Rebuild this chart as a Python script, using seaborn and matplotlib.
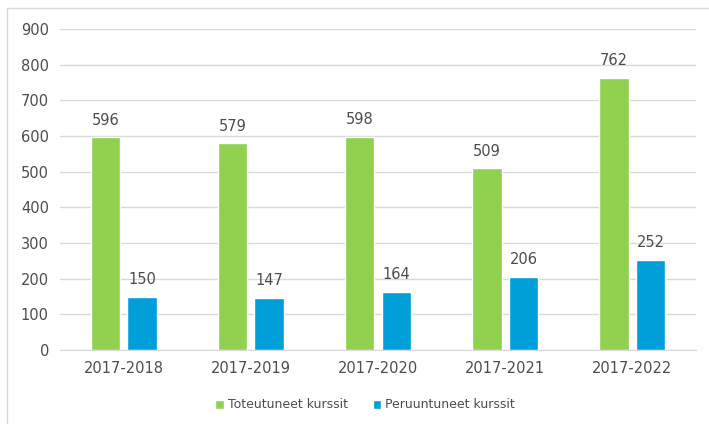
import pandas as pd
import matplotlib.pyplot as plt
import seaborn as sns
from matplotlib.patches import Rectangle

# Data
periods = ['2017-2018', '2017-2019', '2017-2020', '2017-2021', '2017-2022']
toteutuneet = [596, 579, 598, 509, 762]
peruuntuneet = [150, 147, 164, 206, 252]
series_names = ['Toteutuneet kurssit', 'Peruuntuneet kurssit']

df = pd.DataFrame({
    'period': periods * 2,
    'value': toteutuneet + peruuntuneet,
    'series': [series_names[0]] * len(periods) + [series_names[1]] * len(periods),
})

sns.set_style('white')
plt.rcParams['font.family'] = ['DejaVu Sans']
text_col = '#4D4D4D'

fig = plt.figure(figsize=(7.09, 4.24), dpi=100)
ax = fig.add_axes([60 / 709, 1 - 350 / 424, 636 / 709, 321 / 424])

sns.barplot(data=df, x='period', y='value', hue='series',
            palette=['#92D050', '#009FDA'], width=0.575, gap=0.2,
            saturation=1, ax=ax, legend=True)

for cont in ax.containers:
    ax.bar_label(cont, padding=7, fontsize=10.5, color=text_col)

ax.set_ylim(0, 900)
ax.set_yticks(range(0, 901, 100))
ax.yaxis.grid(True, color='#D9D9D9', linewidth=1)
ax.set_axisbelow(True)
ax.set_xlabel('')
ax.set_ylabel('')
for s in ['top', 'right', 'left']:
    ax.spines[s].set_visible(False)
ax.spines['bottom'].set_color('#D9D9D9')
ax.tick_params(axis='both', length=0, labelsize=10.5, labelcolor=text_col, pad=8)

handles, labels = ax.get_legend_handles_labels()
ax.get_legend().remove()
fig.legend(handles, labels, loc='center', bbox_to_anchor=(365 / 709, 1 - 405 / 424),
           ncol=2, frameon=False, fontsize=9, labelcolor=text_col,
           handlelength=0.7, handleheight=0.7, handletextpad=0.3, columnspacing=2.0)

# light frame around the chart
fig.patches.append(Rectangle((7 / 709, -0.01), 1.0, 1 - 8 / 424 + 0.01,
                             transform=fig.transFigure, fill=False,
                             edgecolor='#D9D9D9', linewidth=1))

fig.savefig('out.png', dpi=100)
